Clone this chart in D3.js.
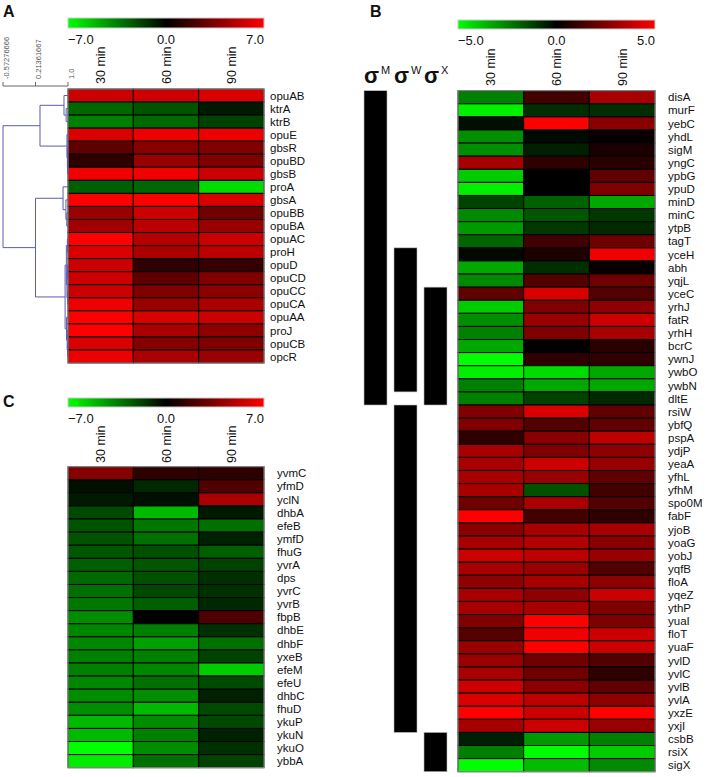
<!DOCTYPE html>
<html>
<head>
<meta charset="utf-8">
<script src="https://cdn.jsdelivr.net/npm/d3@7"></script>
<style>
body { margin: 0; background: #fff; }
text { font-family: "Liberation Sans", Arial, sans-serif; fill: #111; }
</style>
</head>
<body>
<script>
var times = ["30 min", "60 min", "90 min"];

// panel A
var genesA = ["opuAB", "ktrA", "ktrB", "opuE", "gbsR", "opuBD", "gbsB", "proA", "gbsA", "opuBB", "opuBA",
	"opuAC", "proH", "opuD", "opuCD", "opuCC", "opuCA", "opuAA", "proJ", "opuCB", "opcR"];
var valuesA = [
	[5.6, 5.6, 6.0], [-2.8, -2.3, -0.7], [-3.5, -2.9, -1.8], [6.0, 6.5, 6.5], [2.6, 3.7, 3.5],
	[1.3, 4.2, 3.5], [6.6, 6.6, 5.6], [-2.6, -2.8, -6.0], [7.0, 7.0, 6.0], [4.2, 5.6, 3.1],
	[4.4, 5.1, 4.2], [7.0, 5.0, 5.6], [6.0, 4.7, 5.1], [5.6, 1.3, 1.5], [5.6, 2.6, 3.5],
	[5.6, 3.5, 3.9], [6.5, 4.2, 4.7], [7.0, 6.0, 5.6], [7.0, 4.7, 3.9], [6.0, 3.7, 3.5],
	[6.5, 4.7, 4.2]
];
var ticksA = [-7, 0, 7];
var dendroTicks = [-0.57276666, 0.21361667, 1.0];
var dendroTickLabels = ["-0.57276666", "0.21361667", "1.0"];
// similarity at which clusters join (leaves sit at 1.0)
var treeA = {h: -0.57276666, c: [
	{h: 0.3225, c: [
		{h: 0.903, c: ["opuAB", {h: 0.955, c: ["ktrA", "ktrB"]}]},
		{h: 0.975, c: ["opuE", {h: 0.985, c: ["gbsR", {h: 0.99, c: ["opuBD", "gbsB"]}]}]}
	]},
	{h: 0.21361667, c: [
		{h: 0.88, c: ["proA", {h: 0.95, c: ["gbsA", {h: 0.97, c: ["opuBB", "opuBA"]}]}]},
		{h: 0.93, c: [
			{h: 0.96, c: [{h: 0.985, c: ["opuAC", "proH"]},
				{h: 0.975, c: [{h: 0.99, c: ["opuD", "opuCD"]}, {h: 0.99, c: ["opuCC", "opuCA"]}]}]},
			{h: 0.965, c: ["opuAA", {h: 0.98, c: ["proJ", {h: 0.99, c: ["opuCB", "opcR"]}]}]}
		]}
	]}
]};

// panel B
var genesB = ["disA", "murF", "yebC", "yhdL", "sigM", "yngC", "ypbG", "ypuD", "minD", "minC",
	"ytpB", "tagT", "yceH", "abh", "yqjL", "yceC", "yrhJ", "fatR", "yrhH", "bcrC",
	"ywnJ", "ywbO", "ywbN", "dltE", "rsiW", "ybfQ", "pspA", "ydjP", "yeaA", "yfhL",
	"yfhM", "spo0M", "fabF", "yjoB", "yoaG", "yobJ", "yqfB", "floA", "yqeZ", "ythP",
	"yuaI", "floT", "yuaF", "yvlD", "yvlC", "yvlB", "yvlA", "yxzE", "yxjI", "csbB",
	"rsiX", "sigX"];
var valuesB = [
	[-2.5, 1.3, 3.3], [-4.7, -0.9, -0.9], [-0.3, 5.0, 2.7], [-2.8, -0.2, 0.15], [-2.8, -0.6, 0.5],
	[3.3, 0.9, 0.8], [-4.0, 0.0, 1.9], [-4.7, 0.0, 2.5], [-1.3, -1.9, -3.3], [-2.7, -1.7, -1.1],
	[-3.0, -1.1, -0.8], [-2.0, 1.3, 2.2], [-0.15, 0.6, 4.7], [-3.3, -0.9, 0.15], [-2.7, 1.6, 2.2],
	[1.9, 4.3, 1.6], [-4.0, 2.5, 2.8], [-2.8, 3.0, 4.0], [-2.5, 2.5, 3.3], [-3.3, 0.0, 0.8],
	[-5.0, 0.9, 0.9], [-4.7, -4.3, -3.3], [-2.5, -3.3, -3.3], [-2.5, -1.3, -0.8], [2.5, 4.3, 1.9],
	[2.5, 1.6, 1.9], [0.9, 2.7, 3.7], [3.3, 2.5, 2.8], [3.3, 4.0, 3.0], [3.3, 3.0, 1.9],
	[3.3, -1.6, 1.3], [2.2, 3.3, 1.6], [5.0, 1.3, 0.9], [2.7, 3.3, 3.3], [3.3, 3.5, 2.7],
	[4.0, 3.7, 3.0], [3.3, 3.0, 1.6], [2.8, 3.3, 2.8], [3.3, 2.8, 4.0], [3.3, 3.3, 2.5],
	[2.5, 5.0, 2.5], [1.6, 4.7, 4.0], [3.0, 5.0, 4.0], [3.0, 2.2, 1.6], [3.3, 2.2, 0.9],
	[4.0, 2.7, 1.9], [4.3, 3.7, 2.8], [5.0, 4.0, 5.0], [3.3, 4.0, 3.0], [-0.6, -3.0, -2.5],
	[-2.5, -5.0, -4.0], [-5.0, -3.7, -2.7]
];
var ticksB = [-5, 0, 5];
var sigmaNames = ["M", "W", "X"];
var sigmaSpans = [
	{name: "M", from: "disA", to: "dltE"},
	{name: "W", from: "yceH", to: "ywbN"},
	{name: "W", from: "rsiW", to: "yxjI"},
	{name: "X", from: "yceC", to: "dltE"},
	{name: "X", from: "csbB", to: "sigX"}
];

// panel C
var genesC = ["yvmC", "yfmD", "yclN", "dhbA", "efeB", "ymfD", "fhuG", "yvrA", "dps", "yvrC",
	"yvrB", "fbpB", "dhbE", "dhbF", "yxeB", "efeM", "efeU", "dhbC", "fhuD", "ykuP",
	"ykuN", "ykuO", "ybbA"];
var valuesC = [
	[3.7, 1.3, 1.3], [-0.4, -1.1, 2.2], [-0.7, -0.4, 4.7], [-2.0, -5.1, -0.7], [-2.3, -3.3, -3.1],
	[-2.3, -3.1, -0.9], [-2.4, -2.2, -2.6], [-2.6, -2.4, -1.8], [-2.9, -2.2, -1.3], [-3.1, -2.0, -1.3],
	[-3.3, -2.6, -1.1], [-3.9, 0.0, 2.2], [-3.7, -3.5, -1.3], [-3.7, -4.4, -3.1], [-3.5, -3.5, -1.8],
	[-3.5, -3.7, -5.6], [-3.7, -3.1, -2.0], [-3.9, -3.9, -0.9], [-3.9, -5.1, -2.0], [-5.1, -3.9, -2.0],
	[-5.1, -3.5, -0.9], [-7.0, -3.9, -1.3], [-6.5, -3.1, -1.8]
];
var ticksC = [-7, 0, 7];

var svg = d3.select("body").append("svg")
	.attr("width", 710)
	.attr("height", 777)
;
var defs = svg.append("defs");

function colorFor(max) {
	return d3.scaleLinear()
		.domain([-max, 0, max])
		.range(["#00ff00", "#000000", "#ff0000"]);
}

function colorBar(id, ticks, x0, x1, y0, y1, tickY) {
	var color = colorFor(ticks[ticks.length - 1]);
	var grad = defs.append("linearGradient").attr("id", id);
	grad.selectAll("stop")
		.data(d3.range(0, 1.0001, 0.1))
		.enter().append("stop")
			.attr("offset", function(d) { return d; })
			.attr("stop-color", function(d) { return color(color.domain()[0] * (1 - 2 * d)); })
	;
	svg.append("rect")
		.attr("x", x0).attr("y", y0)
		.attr("width", x1 - x0).attr("height", y1 - y0)
		.style("fill", "url(#" + id + ")")
		.style("stroke", "#ccc")
	;
	var tx = d3.scaleLinear().domain(d3.extent(ticks)).range([x0, x1]);
	svg.selectAll(null)
		.data(ticks)
		.enter().append("text")
			.attr("x", function(d) { return tx(d); })
			.attr("y", tickY)
			.attr("text-anchor", function(d, i) { return i == 0 ? "start" : (i == ticks.length - 1 ? "end" : "middle"); })
			.attr("font-size", 13)
			.text(function(d) { return d3.format(".1f")(d); })
	;
}

function heatmap(genes, values, max, x0, x1, y0, y1, labelX, colLabelY) {
	var color = colorFor(max);
	var x = d3.scaleBand().domain(times).range([x0, x1]);
	var y = d3.scaleBand().domain(genes).range([y0, y1]);
	var g = svg.append("g");

	genes.forEach(function(gene, i) {
		g.selectAll(null)
			.data(values[i])
			.enter().append("rect")
				.attr("x", function(d, j) { return x(times[j]); })
				.attr("y", y(gene))
				.attr("width", x.bandwidth())
				.attr("height", y.bandwidth())
				.style("fill", function(d) { return color(d); })
				.style("stroke", "#000")
				.style("stroke-width", 1)
		;
	});
	g.append("rect")
		.attr("x", x0).attr("y", y0)
		.attr("width", x1 - x0).attr("height", y1 - y0)
		.style("fill", "none")
		.style("stroke", "#999")
	;
	g.selectAll(null)
		.data(genes)
		.enter().append("text")
			.attr("x", labelX)
			.attr("y", function(d) { return y(d) + y.bandwidth() / 2; })
			.attr("dy", "0.36em")
			.attr("font-size", 11.5)
			.text(function(d) { return d; })
	;
	g.selectAll(null)
		.data(times)
		.enter().append("text")
			.attr("transform", function(d) { return "translate(" + (x(d) + x.bandwidth() / 2) + "," + colLabelY + ")rotate(-90)"; })
			.attr("dy", "0.36em")
			.attr("font-size", 12.5)
			.text(function(d) { return d; })
	;
	return y;
}

function panelLetter(t, x, y) {
	svg.append("text")
		.attr("x", x).attr("y", y)
		.attr("font-size", 16)
		.attr("font-weight", "bold")
		.text(t)
	;
}

// ---- A ----
panelLetter("A", 3, 17);
colorBar("gradA", ticksA, 68, 264, 18, 28, 44);
var yA = heatmap(genesA, valuesA, 7, 68, 264, 89, 363, 270, 84);

var dx = d3.scaleLinear().domain([dendroTicks[0], 1.0]).range([3, 68]);
var root = d3.hierarchy(treeA, function(d) { return d.c; });
root.eachAfter(function(n) {
	if (n.children) {
		n.py = (n.children[0].py + n.children[n.children.length - 1].py) / 2;
		n.px = dx(n.data.h);
	} else {
		n.py = yA(n.data) + yA.bandwidth() / 2;
		n.px = dx(1.0);
	}
});
var dendro = svg.append("g")
	.style("stroke", "#5c5cb0")
	.style("stroke-width", 1)
	.style("fill", "none")
;
root.descendants().filter(function(n) { return n.children; }).forEach(function(n) {
	dendro.append("line")
		.attr("x1", n.px).attr("x2", n.px)
		.attr("y1", n.children[0].py).attr("y2", n.children[n.children.length - 1].py)
	;
	n.children.forEach(function(c) {
		dendro.append("line")
			.attr("x1", n.px).attr("x2", c.px)
			.attr("y1", c.py).attr("y2", c.py)
		;
	});
});

var scaleG = svg.append("g").style("stroke", "#666");
scaleG.append("line")
	.attr("x1", dx(dendroTicks[0])).attr("x2", dx(1.0))
	.attr("y1", 86).attr("y2", 86)
;
scaleG.selectAll(null)
	.data(dendroTicks)
	.enter().append("line")
		.attr("x1", function(d) { return dx(d); })
		.attr("x2", function(d) { return dx(d); })
		.attr("y1", 82).attr("y2", 86)
;
svg.selectAll(null)
	.data(dendroTicks)
	.enter().append("text")
		.attr("transform", function(d) { return "translate(" + (dx(d) + 3) + ",79)rotate(-90)"; })
		.attr("dy", "0.35em")
		.attr("font-size", 7.5)
		.style("fill", "#555")
		.text(function(d, i) { return dendroTickLabels[i]; })
;

// ---- B ----
panelLetter("B", 370, 17);
colorBar("gradB", ticksB, 458, 655, 20, 29, 45);
var yB = heatmap(genesB, valuesB, 5, 458, 655, 90.7, 771.7, 668, 86);

var sx = d3.scaleBand().domain(sigmaNames).range([364, 447]).paddingInner(0.233);
svg.selectAll(null)
	.data(sigmaSpans)
	.enter().append("rect")
		.attr("x", function(d) { return sx(d.name); })
		.attr("y", function(d) { return yB(d.from); })
		.attr("width", sx.bandwidth())
		.attr("height", function(d) { return yB(d.to) + yB.bandwidth() - yB(d.from); })
		.style("fill", "#000")
		.style("stroke", "#bbb")
		.style("stroke-width", 0.6)
;
var sig = svg.selectAll(null)
	.data(sigmaNames)
	.enter().append("text")
		.attr("x", function(d) { return sx(d); })
		.attr("y", 83)
		.attr("font-size", 22)
		.attr("font-weight", "bold")
;
sig.append("tspan").text("σ");
sig.append("tspan")
	.attr("dx", 2)
	.attr("dy", -9)
	.attr("font-size", 11)
	.attr("font-weight", "normal")
	.text(function(d) { return d; })
;

// ---- C ----
panelLetter("C", 3, 407);
colorBar("gradC", ticksC, 68, 264, 398, 407, 423);
heatmap(genesC, valuesC, 7, 68, 264, 466.7, 767.7, 277, 463);
</script>
</body>
</html>
